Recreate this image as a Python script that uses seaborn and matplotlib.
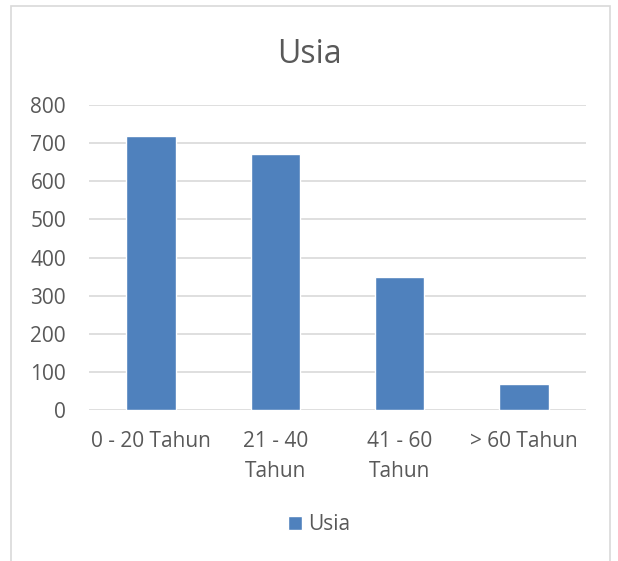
import matplotlib
matplotlib.use("Agg")
import matplotlib.pyplot as plt
import seaborn as sns
import pandas as pd
from matplotlib.patches import Rectangle, Patch

categories = ["0 - 20 Tahun", "21 - 40\nTahun", "41 - 60\nTahun", "> 60 Tahun"]
values = [718, 671, 350, 68]
series_name = "Usia"
yticks = [0, 100, 200, 300, 400, 500, 600, 700, 800]

sns.set_theme(style="white")
plt.rcParams['font.family'] = ['Open Sans', 'DejaVu Sans']

df = pd.DataFrame({"cat": categories, "val": values})

fig = plt.figure(figsize=(6.18, 5.61), dpi=100)
ax = fig.add_axes([89/618, 1-410/561, (586-89)/618, (410-105)/561])

sns.barplot(data=df, x="cat", y="val", color="#4F81BD", width=0.4, ax=ax,
            saturation=1, zorder=3)

ax.set_ylim(0, 800)
ax.set_yticks(yticks)
ax.set_xlim(-0.5, 3.5)
ax.set_xlabel("")
ax.set_ylabel("")
for s in ax.spines.values():
    s.set_visible(False)
ax.yaxis.grid(True, color="#D9D9D9", linewidth=1.2, zorder=0)
ax.set_axisbelow(True)
ax.tick_params(axis="y", length=0, pad=16.5, labelsize=15, labelcolor="#595959")
ax.tick_params(axis="x", length=0, pad=15, labelsize=15, labelcolor="#595959")
for lbl in ax.get_xticklabels():
    lbl.set_linespacing(1.6)

fig.text(0.5, 1-63/561, "Usia", ha="center", va="baseline", fontsize=23, color="#595959")

leg = fig.legend(handles=[Patch(facecolor="#4F81BD", label=series_name)],
                 loc="center", bbox_to_anchor=(319/618, 1-525/561), frameon=False,
                 fontsize=15, handlelength=0.67, handleheight=0.67, handletextpad=0.3)
for t in leg.get_texts():
    t.set_color("#595959")

border = Rectangle((11/618, -0.05), (610-11)/618, 1-6/561+0.05, transform=fig.transFigure,
                   fill=False, edgecolor="#D9D9D9", linewidth=1.2)
fig.patches.append(border)

fig.savefig("out.png", dpi=100)
